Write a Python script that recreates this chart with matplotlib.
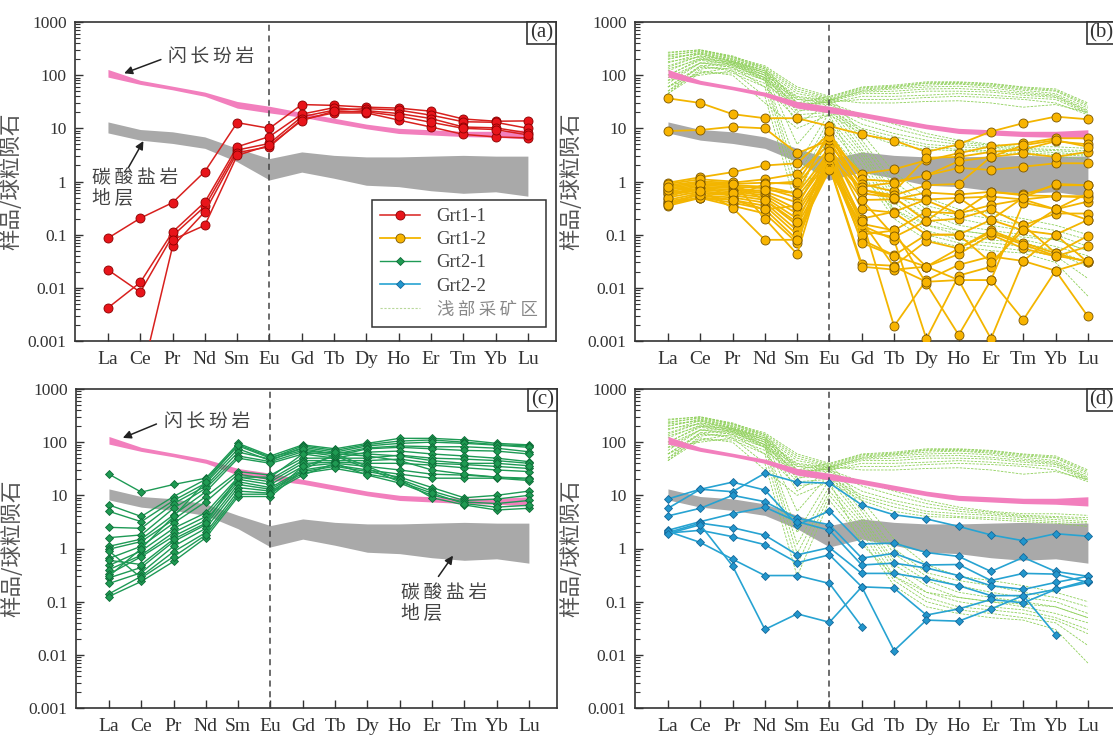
import numpy as np
import matplotlib
matplotlib.use("Agg")
import matplotlib.pyplot as plt
from matplotlib.lines import Line2D
from matplotlib.patches import Rectangle
from matplotlib.ticker import FixedLocator, FixedFormatter, LogLocator, NullFormatter

nan = np.nan
REE = ["La", "Ce", "Pr", "Nd", "Sm", "Eu", "Gd", "Tb", "Dy", "Ho", "Er", "Tm", "Yb", "Lu"]

# reference bands (chondrite-normalised)
diorite_hi = [128, 80, 62, 48, 32, 26, 20, 15.5, 12, 10, 9.4, 8.8, 8.8, 9.4]
diorite_lo = [92, 67, 53, 40, 24, 19.5, 16.2, 12.5, 9.8, 8.0, 7.5, 7.0, 6.8, 6.3]
carb_hi = [13.2, 9.5, 8.6, 6.9, 4.2, 2.7, 3.6, 3.1, 2.9, 2.9, 3.0, 3.1, 3.0, 3.0]
carb_lo = [8.2, 6.0, 5.2, 4.2, 2.35, 1.07, 1.5, 1.15, 0.85, 0.8, 0.67, 0.6, 0.64, 0.53]

# Grt1-1
grt11 = [
    [0.086, 0.204, 0.40, 1.54, 12.8, 10.0, 28, 27, 25, 24, 21, 15, 13.6, 13.8],
    [0.0218, 0.0083, 0.095, 0.34, 3.9, 5.2, 16.5, 22, 23.5, 22, 17.7, 13.3, 13.0, 10.0],
    [0.0042, 0.0126, 0.112, 0.41, 4.5, 7.0, 18.5, 24.5, 21.5, 19, 15.3, 10.6, 10.2, 8.2],
    [nan, 0.00017, 0.060, 0.27, 3.5, 4.5, 14.8, 19.5, 19.5, 14.3, 10.6, 7.7, 6.9, 6.6],
    [nan, nan, 0.080, 0.15, 3.1, 4.8, 14.0, 21, 20.5, 17, 13, 10, 9.5, 7.5],
]

# Grt1-2
grt12 = [
    [36.7, 30, 18.5, 15.5, 15.5, 11.0, 7.7, 5.9, 3.6, 5.0, 8.7, 12.5, 16.6, 14.8],
    [8.9, 9.3, 10.7, 10.0, 3.4, 6.0, 1.4, 1.7, 2.5, 3.4, 4.6, 5.2, 6.5, 6.5],
    [0.95, 1.2, 1.5, 2.0, 2.2, 8.0, 1.1, 1.0, 1.3, 1.8, 1.65, 1.9, 2.2, 2.2],
    [0.85, 1.0, 0.95, 1.1, 1.4, 5.0, 0.9, 0.65, 2.8, 2.9, 3.6, 4.0, 5.7, 5.0],
    [0.8, 0.95, 0.9, 0.95, 0.9, 4.2, 0.7, 0.55, 0.85, 0.9, 2.9, 3.4, 2.9, 3.6],
    [0.75, 0.9, 0.85, 0.8, 0.6, 3.5, 0.45, 0.46, 0.62, 0.57, 0.64, 0.57, 0.85, 0.85],
    [0.7, 0.85, 0.8, 0.75, 0.5, 3.0, 0.2, 0.27, 0.46, 0.49, 0.52, 0.46, 0.53, 0.53],
    [0.65, 0.8, 0.75, 0.65, 0.4, 2.7, 0.16, 0.12, 0.27, 0.25, 0.36, 0.46, 0.3, 0.42],
    [0.6, 0.75, 0.7, 0.6, 0.3, 2.4, 0.12, 0.09, 0.18, 0.2, 0.3, 0.15, 0.25, 0.25],
    [0.55, 0.7, 0.65, 0.55, 0.25, 2.2, 0.08, 0.041, 0.1, 0.1, 0.19, 0.12, 0.1, 0.19],
    [0.5, 0.65, 0.6, 0.5, 0.2, 2.0, 0.028, 0.026, 0.076, 0.055, 0.12, 0.07, 0.045, 0.095],
    [0.45, 0.6, 0.55, 0.45, 0.15, 1.9, 0.025, 0.022, 0.025, 0.043, 0.1, 0.055, 0.039, 0.06],
    [0.42, 0.55, 0.5, 0.4, 0.12, 1.8, 0.2, 0.0019, 0.014, 0.027, 0.039, 0.032, 0.021, 0.032],
    [0.4, 0.5, 0.45, 0.35, 0.1, 1.65, 0.15, 0.08, 0.0011, 0.017, 0.025, 0.15, 0.045, 0.03],
    [0.38, 0.5, 0.4, 0.3, 0.08, 2.5, 0.1, 0.12, 0.012, 0.0013, 0.014, 0.0025, 0.021, 0.0029],
    [0.35, 0.49, 0.35, 0.25, 0.07, 3.2, 0.07, 0.04, 0.025, 0.014, 0.0011, 0.032, 0.1, 0.03],
    [0.9, 1.1, 1.0, 0.2, 0.043, 4.5, 0.3, 0.26, 0.1, 0.1, 0.03, 0.12, 0.3, 0.19],
    [0.6, 0.7, 0.32, 0.08, 0.08, 6.0, 0.6, 0.5, 0.44, 0.25, 0.64, 0.55, 0.53, 0.5],
    [0.5, 0.9, 0.5, 0.9, 1.0, 7.0, 0.8, 0.95, 1.3, 2.4, 2.9, 4.8, 6.0, 4.5],
    [0.36, 0.6, 0.6, 0.7, 0.6, 9.0, 0.45, 0.095, 0.025, 0.055, 0.11, 0.065, 0.04, 0.032],
    [0.7, 0.55, 0.45, 0.3, 0.35, 3.8, 0.18, 0.025, 0.013, 0.014, 0.014, 0.4, 0.3, 0.6],
    [0.8, 0.65, 0.9, 0.45, 0.17, 2.9, 0.7, 0.5, 0.18, 0.5, 0.19, 0.5, 0.9, 0.85],
]

# Grt2-1
grt21 = [
    [25, 11.5, 16, 21, 95, 55, 89, 75, 95, 118, 118, 110, 95, 89],
    [6.6, 4.0, 9.5, 20, 85, 50, 85, 70, 90, 105, 110, 100, 90, 85],
    [5.0, 3.2, 8.0, 17, 75, 45, 80, 65, 85, 95, 100, 95, 88, 80],
    [2.5, 2.4, 7.0, 15, 65, 48, 70, 60, 78, 85, 82, 82, 77, 66],
    [1.6, 1.8, 5.7, 13.6, 55, 43, 66, 55, 75, 80, 75, 70, 68, 60],
    [1.1, 1.5, 4.3, 11.7, 50, 40, 60, 50, 65, 68, 60, 55, 50, 43],
    [0.97, 1.35, 3.5, 9.5, 28, 24, 50, 50, 50, 57, 50, 48, 45, 40],
    [0.65, 1.1, 3.0, 7.6, 25, 20, 45, 45, 45, 48, 40, 38, 35, 32],
    [0.48, 0.9, 2.4, 4.7, 22, 18, 40, 42, 40, 40, 37, 33, 30, 28],
    [0.4, 0.75, 2.0, 4.0, 20, 16, 35, 40, 35, 30, 25, 24, 22, 21],
    [0.33, 0.7, 1.7, 3.4, 18, 14, 30, 37, 30, 25, 21, 21, 21, 19],
    [0.28, 0.44, 1.35, 2.8, 16, 13, 28, 35, 28, 22, 14, 9.0, 10, 12],
    [0.22, 0.35, 1.1, 2.4, 14, 12, 26, 32, 25, 20, 12, 8.0, 8.5, 10],
    [0.14, 0.3, 0.87, 2.0, 12, 11, 24, 40, 24, 17, 10, 7.5, 7.0, 8.0],
    [0.125, 0.24, 0.57, 1.6, 9.5, 9.5, 30, 60, 35, 20, 9.0, 6.6, 5.3, 5.7],
    [0.9, 0.28, 0.7, 1.8, 10.5, 10.5, 35, 55, 32, 18, 11, 7.0, 6.0, 6.5],
    [0.3, 1.0, 4.0, 18, 90, 52, 75, 60, 55, 45, 30, 25, 22, 20],
    [0.6, 0.5, 1.5, 3.0, 22, 22, 60, 65, 60, 55, 45, 40, 40, 36],
]

# Grt2-2
grt22 = [
    [5.7, 13, 11.7, 26, 17.7, 17, 6.6, 4.3, 3.6, 2.6, 1.8, 1.4, 1.9, 1.7],
    [8.55, 13, 17.7, 12.6, 2.76, 5.1, 1.22, 1.26, 0.84, 0.71, 0.37, 0.68, 0.37, 0.3],
    [4.1, 5.7, 10, 7.6, 3.7, 2.8, 0.66, 0.81, 0.49, 0.5, 0.25, 0.34, 0.33, 0.23],
    [2.2, 3.2, 4.5, 6.0, 3.2, 2.2, 0.49, 0.53, 0.43, 0.31, 0.2, 0.17, 0.23, 0.3],
    [2.0, 3.0, 2.46, 1.78, 0.76, 1.04, 0.34, 0.34, 0.27, 0.2, 0.13, 0.13, 0.17, 0.23],
    [1.95, 2.2, 1.67, 1.18, 0.54, 0.76, 0.19, 0.18, 0.056, 0.073, 0.11, 0.095, 0.17, 0.25],
    [2.1, 1.3, 0.63, 0.31, 0.31, 0.22, 0.034, nan, nan, nan, nan, nan, nan, nan],
    [1.9, 2.8, 0.47, 0.03, 0.059, 0.041, 0.19, 0.012, 0.045, 0.043, 0.073, 0.13, 0.024, nan],
]

# shallow mining area (浅部采矿区)
shallow = [
    [270, 300, 220, 150, 60, 40, 60, 65, 75, 75, 70, 60, 55, 30],
    [240, 280, 210, 140, 55, 38, 58, 62, 72, 73, 68, 58, 52, 28],
    [200, 260, 200, 130, 50, 36, 55, 60, 70, 70, 65, 55, 50, 26],
    [150, 230, 190, 120, 45, 35, 52, 58, 65, 68, 62, 52, 45, 24],
    [100, 200, 180, 110, 40, 34, 50, 55, 60, 62, 58, 48, 42, 22],
    [70, 170, 170, 100, 38, 33, 48, 50, 55, 56, 52, 45, 40, 21],
    [50, 150, 160, 90, 35, 32, 45, 45, 50, 50, 48, 42, 38, 20],
    [45, 130, 150, 85, 30, 30, 40, 40, 42, 45, 42, 38, 35, 19],
    [60, 110, 140, 80, 28, 31, 35, 35, 38, 40, 38, 35, 30, 18],
    [80, 100, 120, 70, 25, 35, 30, 30, 32, 33, 30, 25, 28, 20],
    [220, 250, 180, 120, 35, 30, 18, 12, 8, 6, 5, 4.5, 4.5, 4.2],
    [180, 220, 170, 110, 30, 28, 15, 10, 7, 5.5, 4.8, 4.2, 4.0, 3.8],
    [130, 200, 160, 100, 25, 25, 12, 8, 6, 5, 4.5, 4.0, 3.8, 3.5],
    [90, 170, 150, 90, 22, 22, 10, 7, 5, 4.5, 4.2, 3.8, 3.5, 3.2],
    [60, 140, 130, 80, 18, 20, 9, 6, 4.5, 4.0, 3.8, 3.5, 3.2, 3.0],
    [45, 110, 110, 60, 15, 18, 8, 5, 4.0, 3.8, 3.5, 3.2, 3.0, 2.6],
    [260, 300, 230, 140, 30, 40, 8, 1.5, 0.5, 0.3, 0.25, 0.2, 0.15, 0.1],
    [230, 290, 220, 130, 20, 35, 6, 1.0, 0.35, 0.25, 0.2, 0.15, 0.12, 0.08],
    [200, 270, 200, 120, 12, 30, 5, 0.8, 0.3, 0.2, 0.15, 0.12, 0.1, 0.06],
    [170, 250, 190, 110, 5, 25, 4, 0.6, 0.25, 0.15, 0.12, 0.1, 0.08, 0.05],
    [140, 230, 180, 100, 2, 20, 3.5, 0.5, 0.2, 0.12, 0.1, 0.08, 0.06, 0.04],
    [120, 210, 170, 90, 1.2, 15, 3, 0.4, 0.15, 0.1, 0.08, 0.07, 0.05, 0.03],
    [100, 190, 160, 80, 0.8, 12, 2.5, 0.3, 0.12, 0.08, 0.07, 0.06, 0.045, 0.025],
    [80, 170, 140, 60, 0.5, 10, 2, 0.25, 0.1, 0.07, 0.06, 0.05, 0.04, 0.015],
    [60, 150, 120, 40, 0.3, 8, 1.5, 0.2, 0.08, 0.06, 0.05, 0.045, 0.03, 0.007],
    [50, 120, 100, 30, 10, 18, 1.2, 0.3, 0.15, 0.12, 0.1, 0.09, 0.08, 0.05],
]

SERIF = "Liberation Serif"
CJK = ["Noto Sans CJK SC", "DejaVu Sans"]
TXT = "#333333"
SP = "\u2009"  # thin space between CJK glyphs (falls back to DejaVu)

STYLE = {
    "Grt1-1": dict(color="#d8201e", marker="o", ms=6.5, mfc="#e8141a", mec="#8a0000", lw=1.1),
    "Grt1-2": dict(color="#f3b500", marker="o", ms=6.5, mfc="#f8b400", mec="#7a5600", lw=1.3),
    "Grt2-1": dict(color="#1e9a55", marker="D", ms=4.3, mfc="#1f9a52", mec="#0d6b36", lw=1.0),
    "Grt2-2": dict(color="#27a3d2", marker="D", ms=4.5, mfc="#2296cc", mec="#16689a", lw=1.2),
}
SHALLOW = dict(color="#8fd05a", lw=0.6, ls=(0, (3, 1.5)))

x = np.arange(len(REE))


def spaced(s):
    return "\n".join(SP.join(line) for line in s.split("\n"))


def setup_axes(ax, label):
    ax.set_yscale("log")
    ax.set_ylim(0.001, 1000)
    ax.set_xlim(-1.02, 13.87)
    ax.fill_between(x, carb_lo, carb_hi, color="#a9a9a9", lw=0, zorder=1)
    ax.fill_between(x, diorite_lo, diorite_hi, color="#f27fbd", lw=0, zorder=3)
    ax.axvline(5, color="#444444", lw=1.1, ls=(0, (4, 3)), zorder=4)
    ax.xaxis.set_major_locator(FixedLocator(x))
    ax.xaxis.set_major_formatter(FixedFormatter(REE))
    yt = [0.001, 0.01, 0.1, 1, 10, 100, 1000]
    ax.yaxis.set_major_locator(FixedLocator(yt))
    ax.yaxis.set_major_formatter(FixedFormatter(["0.001", "0.01", "0.1", "1", "10", "100", "1000"]))
    ax.yaxis.set_minor_locator(LogLocator(base=10, subs=np.arange(2, 10)))
    ax.yaxis.set_minor_formatter(NullFormatter())
    ax.tick_params(axis="both", which="major", direction="in", length=6, width=1.0, color="#333333")
    ax.tick_params(axis="y", which="minor", direction="in", length=3.5, width=0.8, color="#333333")
    ax.tick_params(axis="x", labelsize=14, pad=7, labelcolor=TXT)
    ax.tick_params(axis="y", labelsize=12.5, pad=6, labelcolor=TXT)
    for t in ax.get_xticklabels() + ax.get_yticklabels():
        t.set_fontfamily(SERIF)
    for s in ax.spines.values():
        s.set_color("#333333")
        s.set_linewidth(1.2)
    ax.set_ylabel("样品/球粒陨石", family=CJK, fontsize=15.5, color="#555555")
    ax.yaxis.set_label_coords(-0.11, 0.5)
    ax.add_patch(Rectangle((1 - 0.06, 1 - 0.068), 0.06, 0.068, transform=ax.transAxes,
                           facecolor="white", edgecolor="#333333", lw=1.2, zorder=6, clip_on=False))
    ax.text(1 - 0.03, 1 - 0.034, label, transform=ax.transAxes, ha="center", va="center",
            family=SERIF, fontsize=15, color=TXT, zorder=7)


def draw_series(ax, rows, name):
    st = STYLE[name]
    for r in rows:
        ax.plot(x, r, color=st["color"], lw=st["lw"], marker=st["marker"], ms=st["ms"],
                mfc=st["mfc"], mec=st["mec"], mew=0.6, zorder=5)


def draw_shallow(ax):
    for r in shallow:
        ax.plot(x, r, zorder=2, **SHALLOW)


def arrow(ax, xy, xytext):
    ax.annotate("", xy=xy, xytext=xytext,
                arrowprops=dict(arrowstyle="-|>", color="#222222", lw=1.1, mutation_scale=12),
                zorder=6)


def label_text(ax, xv, yv, s):
    ax.text(xv, yv, spaced(s), family=CJK, fontsize=13.5, color="#444444",
            va="center", ha="left", linespacing=1.0)


fig = plt.figure(figsize=(11.13, 7.35), dpi=100)
W, H = 1113.0, 735.0
aw = 481 / W
ah = 319 / H
ax_a = fig.add_axes([75 / W, 1 - 341 / H, aw, ah])
ax_b = fig.add_axes([635 / W, 1 - 341 / H, aw, ah])
ax_c = fig.add_axes([76 / W, 1 - 708 / H, aw, ah])
ax_d = fig.add_axes([635 / W, 1 - 708 / H, aw, ah])

for ax, lab in zip([ax_a, ax_b, ax_c, ax_d], ["(a)", "(b)", "(c)", "(d)"]):
    setup_axes(ax, lab)

# (a)
draw_series(ax_a, grt11, "Grt1-1")
arrow(ax_a, xy=(0.42, 104), xytext=(1.72, 205))
label_text(ax_a, 1.86, 215, "闪长玢岩")
arrow(ax_a, xy=(1.14, 6.4), xytext=(0.59, 1.64))
label_text(ax_a, -0.49, 0.74, "碳酸盐岩\n地层")

handles = [
    Line2D([], [], color=STYLE[k]["color"], lw=STYLE[k]["lw"], marker=STYLE[k]["marker"],
           ms=STYLE[k]["ms"], mfc=STYLE[k]["mfc"], mec=STYLE[k]["mec"], mew=0.6)
    for k in ["Grt1-1", "Grt1-2", "Grt2-1", "Grt2-2"]
]
handles.append(Line2D([], [], color="#b8d89a", lw=0.8, ls=(0, (2, 1.5))))
leg = ax_a.legend(handles, ["Grt1-1", "Grt1-2", "Grt2-1", "Grt2-2", spaced("浅部采矿区")],
                  loc="lower right", bbox_to_anchor=(0.979, 0.044), borderaxespad=0,
                  frameon=True, fancybox=False, framealpha=1,
                  edgecolor="#333333", handlelength=2.1, labelspacing=0.32, borderpad=0.45,
                  handletextpad=0.9, prop={"family": SERIF, "size": 13.5})
leg.get_frame().set_linewidth(1.1)
leg.set_zorder(8)
for t in leg.get_texts():
    t.set_color("#444444")
leg.get_texts()[-1].set_fontfamily(CJK)
leg.get_texts()[-1].set_fontsize(12.5)
leg.get_texts()[-1].set_color("#888888")

# (b)
draw_shallow(ax_b)
draw_series(ax_b, grt12, "Grt1-2")

# (c)
draw_series(ax_c, grt21, "Grt2-1")
arrow(ax_c, xy=(0.35, 115), xytext=(1.55, 230))
label_text(ax_c, 1.69, 243, "闪长玢岩")
arrow(ax_c, xy=(10.7, 0.81), xytext=(10.15, 0.27))
label_text(ax_c, 9.05, 0.093, "碳酸盐岩\n地层")

# (d)
draw_shallow(ax_d)
draw_series(ax_d, grt22, "Grt2-2")

fig.savefig("out.png", dpi=100)
